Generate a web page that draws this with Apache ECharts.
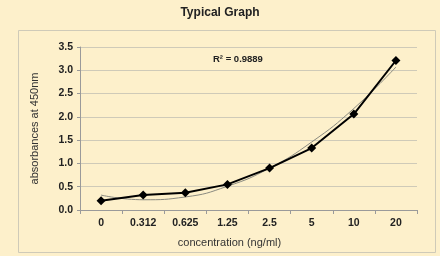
<!DOCTYPE html>
<html><head><meta charset="utf-8">
<script src="https://cdn.jsdelivr.net/npm/echarts@6/dist/echarts.min.js"></script>
<style>html,body{margin:0;padding:0;background:#fdf0cb;}#c{width:440px;height:256px;}</style>
</head><body><div id="c"></div>
<script>
var categories = ['0','0.312','0.625','1.25','2.5','5','10','20'];
var absorbance = [0.2,0.32,0.37,0.55,0.9,1.33,2.06,3.21];
var trend = [0.32,0.22,0.28,0.51,0.9,1.46,2.18,3.07];
var yTicks = [0,0.5,1,1.5,2,2.5,3,3.5];
var titleText = 'Typical Graph';
var r2Text = 'R\u00b2 = 0.9889';
var xName = 'concentration (ng/ml)';
var yName = 'absorbances at 450nm';

var chart = echarts.init(document.getElementById('c'), null, {renderer:'canvas'});
chart.setOption({
  backgroundColor:'#fdf0cb',
  animation:false,
  title:{text:titleText,left:'center',top:2,textStyle:{fontFamily:'Liberation Sans',fontSize:12,fontWeight:'bold',color:'#222'}},
  graphic:[
    {type:'rect',shape:{x:18.5,y:30.5,width:417,height:222},style:{fill:'none',stroke:'#cfcab8',lineWidth:1},z:0},
    {type:'text',left:213,top:54,style:{text:r2Text,font:'bold 9.5px Liberation Sans',fill:'#222'}}
  ],
  grid:{left:80,right:23,top:47,bottom:46,containLabel:false},
  xAxis:{type:'category',data:categories,boundaryGap:true,
    name:xName,nameLocation:'middle',nameGap:27,
    nameTextStyle:{fontFamily:'Liberation Sans',fontSize:11,color:'#333',padding:[0,38,0,0]},
    axisLine:{lineStyle:{color:'#9a9a9a',width:1}},
    axisTick:{show:true,length:4,lineStyle:{color:'#9a9a9a'}},
    axisLabel:{fontFamily:'Liberation Sans',fontSize:10.5,fontWeight:'bold',color:'#222',margin:8}},
  yAxis:{type:'value',min:0,max:3.5,interval:0.5,
    name:yName,nameLocation:'middle',nameGap:40,
    nameTextStyle:{fontFamily:'Liberation Sans',fontSize:11,color:'#333'},
    axisLine:{show:true,lineStyle:{color:'#9a9a9a',width:1}},
    axisTick:{show:true,length:3,lineStyle:{color:'#9a9a9a'}},
    splitLine:{lineStyle:{color:'#cfcab8',width:1}},
    axisLabel:{fontFamily:'Liberation Sans',fontSize:10.5,fontWeight:'bold',color:'#222',margin:7,
      formatter:function(v){return v.toFixed(1);}}},
  series:[
    {type:'line',data:trend,smooth:0.5,symbol:'none',lineStyle:{color:'#8a8a80',width:1},z:2},
    {type:'line',data:absorbance,symbol:'diamond',symbolSize:9,itemStyle:{color:'#000'},lineStyle:{color:'#000',width:2},z:3}
  ]
});
</script></body></html>
